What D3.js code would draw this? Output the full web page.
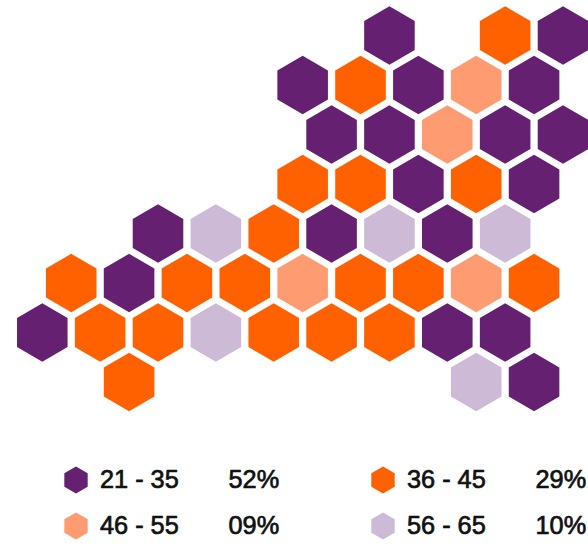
<!doctype html>
<html>
<head>
<script src="https://d3js.org/d3.v7.min.js"></script>
<style>
html, body { margin: 0; padding: 0; background: #fff; }
svg { display: block; }
.legend text { font-family: "Liberation Sans", sans-serif; font-size: 25.3px; fill: #111; stroke: #111; stroke-width: 0.7px; }
</style>
</head>
<body>
<svg width="588" height="545"></svg>
<script>
// one entry per cell: staggered grid column, row, age band index
var cols = [12,16,18, 9,11,13,15,17, 10,12,14,16,18, 9,11,13,15,17,
            4,6,8,10,12,14,16, 1,3,5,7,9,11,13,15,17, 0,2,4,6,8,10,12,14,16, 3,15,17];
var rows = [0,0,0, 1,1,1,1,1, 2,2,2,2,2, 3,3,3,3,3,
            4,4,4,4,4,4,4, 5,5,5,5,5,5,5,5,5, 6,6,6,6,6,6,6,6,6, 7,7,7];
var bands = [0,1,0, 0,1,0,2,0, 0,0,2,0,0, 1,1,0,1,0,
             0,3,1,0,3,0,3, 1,0,1,1,2,1,1,2,1, 0,1,1,3,1,1,1,0,0, 1,3,0];

var ageLabels = ["21 - 35", "36 - 45", "46 - 55", "56 - 65"];
var sharePct = ["52%", "29%", "09%", "10%"];
var bandColors = ["#662072", "#ff6000", "#ff9b71", "#cdbad6"];

var svg = d3.select("svg");

var x = d3.scaleLinear().domain([0, 18]).range([42.3, 563]);
var y = d3.scaleLinear().domain([0, 7]).range([35.5, 382]);
var color = d3.scaleOrdinal().domain(d3.range(4)).range(bandColors);

// pointy-top hexagon, r = centre to corner
function hexPath(r) {
    var pts = d3.range(6).map(function(i) {
        var a = Math.PI / 3 * i;
        return [r * Math.sin(a), -r * Math.cos(a)];
    });
    return d3.line()(pts) + "Z";
}

svg.append("g")
    .selectAll("path")
    .data(d3.range(cols.length))
    .enter()
    .append("path")
    .attr("d", hexPath(29.2))
    .attr("transform", function(i) { return "translate(" + x(cols[i]) + "," + y(rows[i]) + ")"; })
    .style("fill", function(i) { return color(bands[i]); });

// legend, two by two
var legendX = d3.scaleOrdinal().domain([0, 1]).range([76, 383]);
var legendY = d3.scaleOrdinal().domain([0, 1]).range([480, 526]);

var item = svg.append("g")
    .attr("class", "legend")
    .selectAll("g")
    .data(ageLabels)
    .enter()
    .append("g")
    .attr("transform", function(d, i) { return "translate(" + legendX(i % 2) + "," + legendY(Math.floor(i / 2)) + ")"; });

item.append("path")
    .attr("d", hexPath(13.5))
    .style("fill", function(d, i) { return bandColors[i]; });

item.append("text")
    .attr("x", 24)
    .attr("y", 8)
    .text(function(d) { return d; });

item.append("text")
    .attr("x", 152.5)
    .attr("y", 8)
    .text(function(d, i) { return sharePct[i]; });
</script>
</body>
</html>
